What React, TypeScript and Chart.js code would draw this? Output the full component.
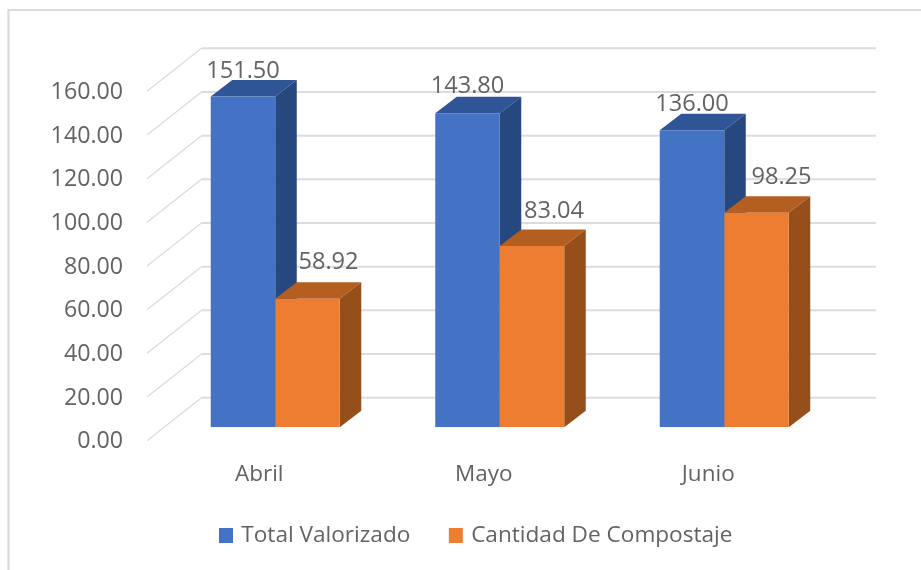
import React, { useEffect, useRef } from "react";
import { Chart, registerables, layouts } from "chart.js";

Chart.register(...registerables);

const categories = ["Abril", "Mayo", "Junio"];
const totalValorizado = [151.5, 143.8, 136.0];
const cantidadCompostaje = [58.92, 83.04, 98.25];
const seriesNames = ["Total Valorizado", "Cantidad De Compostaje"];

const FONT = '"Open Sans", sans-serif';
const TEXT = "#636363";
const GRID = "#DCDCDC";

const WALL = { dx: 54.5, dy: -43, right: 876 };
const BAR_SHIFT = { dx: 16, dy: -13.4 };
const DEPTH = { dx: 21.5, dy: -16.5 };
const SHADES = [
  { top: "#2F5597", side: "#27477F" },
  { top: "#B45F20", side: "#964F1A" },
];
const LABEL_NUDGE = [
  [{ x: 0, y: -25 }, { x: 0, y: -27 }, { x: 0, y: -26 }],
  [{ x: 21, y: -36 }, { x: 22, y: -35 }, { x: 25, y: -35 }],
];
const LEGEND_PADDING = 41.5;
const LEGEND_FONT = 22.6;

const poly = (ctx: CanvasRenderingContext2D, pts: number[][], fill: string) => {
  ctx.fillStyle = fill;
  ctx.beginPath();
  pts.forEach(([x, y], i) => (i ? ctx.lineTo(x, y) : ctx.moveTo(x, y)));
  ctx.closePath();
  ctx.fill();
};

const scene = {
  id: "scene",
  beforeLayout(chart: any) {
    layouts.removeBox(chart, chart.legend);
  },
  afterLayout(chart: any) {
    const legend = chart.legend;
    legend.update(900, 200, { left: 0, top: 0, right: 0, bottom: 0 });
    const h = legend.height;
    legend.left = 222 - LEGEND_PADDING;
    legend.right = 900;
    legend.top = 535.5 - LEGEND_PADDING - LEGEND_FONT / 2;
    legend.bottom = legend.top + h;
  },
  afterDraw(chart: any) {
    chart.legend.draw();
  },
  beforeDraw(chart: any) {
    const { ctx, scales, chartArea } = chart;
    ctx.save();
    ctx.fillStyle = "#fff";
    ctx.fillRect(0, 0, chart.width, chart.height);
    ctx.strokeStyle = "#DADADA";
    ctx.lineWidth = 2.2;
    ctx.beginPath();
    ctx.moveTo(8.5, chart.height);
    ctx.lineTo(8.5, 10);
    ctx.lineTo(chart.width, 10);
    ctx.stroke();
    const y = scales.y;
    y.ticks.forEach((t: any) => {
      const py = y.getPixelForValue(t.value);
      ctx.strokeStyle = GRID;
      ctx.lineWidth = 1.3;
      ctx.beginPath();
      ctx.moveTo(chartArea.left, py);
      ctx.lineTo(chartArea.left + WALL.dx, py + WALL.dy);
      ctx.stroke();
      ctx.lineWidth = 2;
      ctx.beginPath();
      ctx.moveTo(chartArea.left + WALL.dx, py + WALL.dy);
      ctx.lineTo(WALL.right, py + WALL.dy);
      ctx.stroke();
    });
    ctx.restore();
  },
  beforeDatasetsDraw(chart: any) {
    const { ctx } = chart;
    ctx.save();
    ctx.translate(BAR_SHIFT.dx, BAR_SHIFT.dy);
    [0, 1].forEach((ds) => {
      chart.getDatasetMeta(ds).data.forEach((bar: any) => {
        const hw = bar.width / 2;
        const l = bar.x - hw;
        const r = bar.x + hw;
        const t = bar.y;
        const b = bar.base;
        poly(ctx, [[l, t], [r, t], [r + DEPTH.dx, t + DEPTH.dy], [l + DEPTH.dx, t + DEPTH.dy]], SHADES[ds].top);
        poly(ctx, [[r, t], [r + DEPTH.dx, t + DEPTH.dy], [r + DEPTH.dx, b + DEPTH.dy], [r, b]], SHADES[ds].side);
      });
    });
  },
  afterDatasetsDraw(chart: any) {
    const { ctx } = chart;
    ctx.restore();
    ctx.save();
    ctx.font = `23.6px ${FONT}`;
    ctx.fillStyle = TEXT;
    ctx.textAlign = "center";
    ctx.textBaseline = "middle";
    [0, 1].forEach((ds) => {
      const values = chart.data.datasets[ds].data;
      chart.getDatasetMeta(ds).data.forEach((bar: any, i: number) => {
        const n = LABEL_NUDGE[ds][i];
        ctx.fillText(values[i].toFixed(2), bar.x + BAR_SHIFT.dx + n.x, bar.y + BAR_SHIFT.dy + n.y);
      });
    });
    ctx.restore();
  },
};

export default function App() {
  const ref = useRef<HTMLCanvasElement>(null);
  useEffect(() => {
    const chart = new Chart(ref.current!, {
      type: "bar",
      data: {
        labels: categories,
        datasets: [
          { label: seriesNames[0], data: totalValorizado, backgroundColor: "#4472C4" },
          { label: seriesNames[1], data: cantidadCompostaje, backgroundColor: "#ED7D31" },
        ],
      },
      options: {
        animation: false,
        responsive: false,
        devicePixelRatio: 1,
        layout: { padding: { left: 0, right: 100.5, top: 91.3, bottom: 55.5 } },
        datasets: { bar: { categoryPercentage: 0.5746, barPercentage: 1, borderWidth: 0 } },
        scales: {
          x: {
            grid: { display: false, drawTicks: false },
            border: { display: false },
            afterFit: (s: any) => { s.height = 73.8; },
            ticks: { color: TEXT, padding: 20, font: { family: FONT, size: 22.5 }, maxRotation: 0 },
          },
          y: {
            min: 0,
            max: 160,
            grid: { display: false, drawTicks: false },
            border: { display: false },
            afterFit: (s: any) => { s.width = 147; },
            ticks: {
              stepSize: 20,
              color: TEXT,
              padding: 24,
              labelOffset: 1,
              font: { family: FONT, size: 23.2 },
              callback: (v: any) => Number(v).toFixed(2),
            },
          },
        },
        plugins: {
          tooltip: { enabled: false },
          legend: {
            position: "bottom",
            align: "start",
            labels: {
              boxWidth: 8,
              boxHeight: 9,
              padding: LEGEND_PADDING,
              color: TEXT,
              font: { family: FONT, size: LEGEND_FONT },
              generateLabels: (chart: any) =>
                Chart.defaults.plugins.legend.labels.generateLabels(chart).map((item: any) => ({
                  ...item,
                  strokeStyle: item.fillStyle,
                  lineWidth: 6,
                })),
            },
          },
        },
      },
      plugins: [scene],
    } as any);
    return () => chart.destroy();
  }, []);
  return (
    <canvas
      ref={ref}
      width={921}
      height={570}
      style={{ position: "fixed", left: 0, top: 0, width: 921, height: 570, display: "block", filter: "blur(0.6px)" }}
    />
  );
}
